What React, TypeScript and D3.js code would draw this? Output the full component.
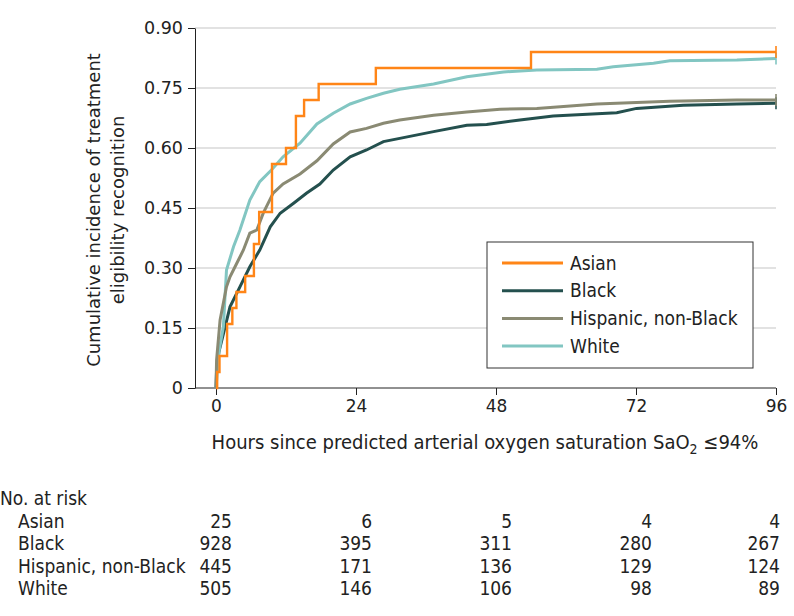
import { useEffect, useRef } from 'react'
import * as d3 from 'd3'

const W = 794
const H = 616
const FONT_C = "'DejaVu Sans Condensed', 'DejaVu Sans', sans-serif"
const FONT = "'DejaVu Sans', sans-serif"

const X_TICKS = [0, 24, 48, 72, 96]
const Y_TICKS = [0, 0.15, 0.3, 0.45, 0.6, 0.75, 0.9]

const GROUPS = ['Asian', 'Black', 'Hispanic, non-Black', 'White']
const COLORS = ['#ff8517', '#24504e', '#8a8a73', '#82c6c2']

// cumulative incidence, [hours, value]
const ASIAN: [number, number][] = [
  [0, 0], [0.2, 0.04], [0.6, 0.08], [1.9, 0.16], [2.8, 0.2], [3.5, 0.24], [5.0, 0.28],
  [6.5, 0.36], [7.4, 0.44], [9.6, 0.56], [12.0, 0.6], [13.7, 0.68], [15.1, 0.72],
  [17.6, 0.76], [27.4, 0.8], [54.0, 0.84], [96, 0.84]
]
const BLACK: [number, number][] = [
  [0, 0], [0.1, 0.045], [0.5, 0.09], [1.3, 0.137], [2.4, 0.203], [4.1, 0.253], [5.8, 0.303],
  [7.5, 0.345], [9.3, 0.403], [11, 0.437], [13.3, 0.462], [15.5, 0.487], [17.8, 0.51],
  [20.1, 0.545], [23, 0.578], [25.8, 0.595], [28.7, 0.616], [31.5, 0.624], [37.3, 0.641],
  [43, 0.657], [46.4, 0.659], [52.1, 0.67], [57.8, 0.68], [68.7, 0.688], [72.1, 0.699],
  [80.1, 0.707], [89.3, 0.71], [96, 0.712]
]
const HISPANIC: [number, number][] = [
  [0, 0], [0.1, 0.07], [0.7, 0.17], [1.8, 0.253], [2.4, 0.278], [3.5, 0.31], [4.7, 0.345],
  [5.8, 0.387], [7.0, 0.395], [8.1, 0.437], [9.8, 0.487], [11.5, 0.51], [14.4, 0.535],
  [17.3, 0.568], [20.1, 0.61], [23, 0.64], [25.8, 0.649], [28.7, 0.662], [31.5, 0.67],
  [37.3, 0.682], [43, 0.69], [48.7, 0.697], [55, 0.699], [65.3, 0.71], [77.8, 0.717],
  [89.3, 0.72], [96, 0.72]
]
const WHITE: [number, number][] = [
  [0, 0], [0.5, 0.09], [1.26, 0.153], [1.8, 0.295], [3.0, 0.353], [4.1, 0.395], [5.8, 0.47],
  [7.5, 0.516], [9.5, 0.545], [11.5, 0.578], [14.4, 0.612], [17.3, 0.66], [20.1, 0.687],
  [23, 0.71], [25.8, 0.724], [28.7, 0.737], [31.5, 0.747], [37.3, 0.76], [43, 0.778],
  [49.3, 0.79], [55, 0.795], [65.3, 0.797], [68.1, 0.803], [75, 0.812], [77.8, 0.818],
  [89.3, 0.82], [96, 0.824]
]

const AT_RISK_ASIAN = [25, 6, 5, 4, 4]
const AT_RISK_BLACK = [928, 395, 311, 280, 267]
const AT_RISK_HISPANIC = [445, 171, 136, 129, 124]
const AT_RISK_WHITE = [505, 146, 106, 98, 89]

export default function App() {
  const svgRef = useRef<SVGSVGElement>(null)

  useEffect(() => {
    if (!svgRef.current) return
    const svg = d3.select(svgRef.current)
    svg.selectAll('*').remove()

    const axisX0 = 195
    const x = d3.scaleLinear().domain([0, 96]).range([216, 776])
    const y = d3.scaleLinear().domain([0, 0.9]).range([388, 28])
    const right = x(96)

    // gridlines
    svg.append('g')
      .selectAll('line')
      .data(Y_TICKS.filter(d => d > 0))
      .enter()
      .append('line')
      .attr('x1', axisX0)
      .attr('x2', right)
      .attr('y1', d => y(d))
      .attr('y2', d => y(d))
      .attr('stroke', '#d8d8d8')
      .attr('stroke-width', 1.6)

    // y axis
    const yAxis = svg.append('g')
      .attr('transform', `translate(${axisX0},0)`)
      .call(
        d3.axisLeft(y)
          .tickValues(Y_TICKS)
          .tickSize(7)
          .tickSizeOuter(0)
          .tickPadding(5)
          .tickFormat(d => (+d === 0 ? '0' : d3.format('.2f')(+d)))
      )
    yAxis.attr('font-family', FONT).attr('font-size', 17.5)
    yAxis.selectAll('text').attr('fill', '#222')
    yAxis.selectAll('line, path').attr('stroke', '#222')

    // x axis
    const xAxis = svg.append('g')
      .attr('transform', `translate(0,${y(0)})`)
      .call(d3.axisBottom(x).tickValues(X_TICKS).tickSize(7).tickPadding(5))
    xAxis.select('.domain').remove()
    xAxis.append('line')
      .attr('x1', axisX0)
      .attr('x2', right)
      .attr('stroke', '#222')
      .attr('stroke-width', 1)
    xAxis.attr('font-family', FONT).attr('font-size', 17)
    xAxis.selectAll('text').attr('fill', '#222')
    xAxis.selectAll('line').attr('stroke', '#222')

    // axis titles
    const yTitle = svg.append('text')
      .attr('transform', `translate(94,${y(0.45) + 2}) rotate(-90)`)
      .attr('text-anchor', 'middle')
      .attr('font-family', FONT)
      .attr('font-size', 18)
      .attr('fill', '#222')
    yTitle.append('tspan').attr('x', 0).attr('dy', '0.35em').text('Cumulative incidence of treatment')
    yTitle.append('tspan').attr('x', 0).attr('dy', '1.3em').text('eligibility recognition')

    const xTitle = svg.append('text')
      .attr('x', 485)
      .attr('y', 449)
      .attr('text-anchor', 'middle')
      .attr('font-family', FONT_C)
      .attr('font-size', 20)
      .attr('fill', '#222')
    xTitle.append('tspan').text('Hours since predicted arterial oxygen saturation SaO')
    xTitle.append('tspan').attr('font-size', 14).attr('dy', 5).text('2')
    xTitle.append('tspan').attr('dy', -5).text(' \u226494%')

    // curves
    const series = [ASIAN, BLACK, HISPANIC, WHITE]
    const drawOrder = [1, 3, 2, 0]
    drawOrder.forEach(i => {
      const line = d3.line<[number, number]>()
        .x(d => x(d[0]))
        .y(d => y(d[1]))
        .curve(i === 0 ? d3.curveStepAfter : d3.curveLinear)
      svg.append('path')
        .datum(series[i])
        .attr('d', line)
        .attr('fill', 'none')
        .attr('stroke', COLORS[i])
        .attr('stroke-width', i === 0 ? 2.4 : 3)
        .attr('stroke-linejoin', 'miter')
      const last = series[i][series[i].length - 1]
      svg.append('line')
        .attr('x1', x(last[0]))
        .attr('x2', x(last[0]))
        .attr('y1', y(last[1]) - 6)
        .attr('y2', y(last[1]) + 6)
        .attr('stroke', COLORS[i])
        .attr('stroke-width', 1.6)
    })

    // legend
    const legend = svg.append('g').attr('transform', 'translate(487,242)')
    legend.append('rect')
      .attr('width', 266)
      .attr('height', 126)
      .attr('fill', '#fff')
      .attr('stroke', '#333')
      .attr('stroke-width', 1)
    GROUPS.forEach((g, i) => {
      const ly = 21 + i * 27.7
      legend.append('line')
        .attr('x1', 15).attr('x2', 76)
        .attr('y1', ly).attr('y2', ly)
        .attr('stroke', COLORS[i])
        .attr('stroke-width', 3)
      legend.append('text')
        .attr('x', 83)
        .attr('y', ly)
        .attr('dy', '0.35em')
        .attr('font-family', FONT_C)
        .attr('font-size', 19)
        .attr('fill', '#222')
        .text(g)
    })

    // number at risk table
    const table = svg.append('g')
      .attr('font-family', FONT_C)
      .attr('font-size', 19)
      .attr('fill', '#222')
    table.append('text').attr('x', 0).attr('y', 498).attr('dy', '0.35em').text('No. at risk')
    const rows = [AT_RISK_ASIAN, AT_RISK_BLACK, AT_RISK_HISPANIC, AT_RISK_WHITE]
    rows.forEach((vals, r) => {
      const ry = 521 + r * 22.5
      table.append('text').attr('x', 18).attr('y', ry).attr('dy', '0.35em').text(GROUPS[r])
      vals.forEach((v, c) => {
        table.append('text')
          .attr('x', Math.min(x(X_TICKS[c]) + 16, 780))
          .attr('y', ry)
          .attr('dy', '0.35em')
          .attr('text-anchor', 'end')
          .text(v)
      })
    })
  }, [])

  return (
    <div style={{ position: 'absolute', left: 0, top: 0 }}>
      <svg ref={svgRef} width={W} height={H} style={{ display: 'block', background: '#fff' }} />
    </div>
  )
}
